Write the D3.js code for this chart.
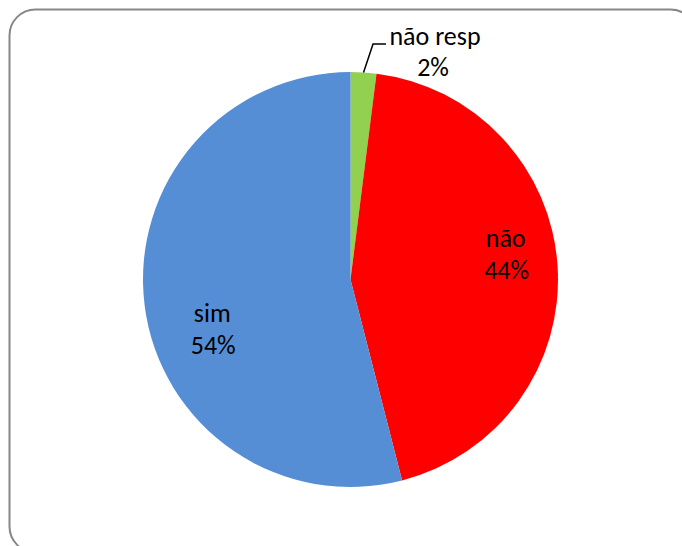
<!DOCTYPE html>
<html>
<head>
<meta charset="utf-8">
<script src="https://cdn.jsdelivr.net/npm/d3@7"></script>
<style>
  html, body { margin: 0; padding: 0; background: #fff; }
  svg { display: block; }
  text { font-family: Carlito, Lato, "Open Sans", sans-serif; fill: #000; }
</style>
</head>
<body>
<svg id="chart" width="682" height="546"></svg>
<script>
// Survey answers
const categories = ["não resp", "não", "sim"];
const values = [2, 44, 54];
const colors = ["#92D050", "#FF0000", "#558ED5"];

const svg = d3.select("#chart");

// Rounded chart frame (extends past the right and bottom edges)
svg.append("rect")
  .attr("x", 9.5).attr("y", 9.5)
  .attr("width", 687).attr("height", 543)
  .attr("rx", 26).attr("ry", 26)
  .attr("fill", "#fff")
  .attr("stroke", "#878787")
  .attr("stroke-width", 2);

const cx = 350.5, cy = 279.5, R = 207.5;
const g = svg.append("g").attr("transform", `translate(${cx},${cy})`);

const pie = d3.pie().sort(null).value(d => d.value);
const data = pie(categories.map((c, i) => ({ cat: c, value: values[i], color: colors[i] })));
const arc = d3.arc().innerRadius(0).outerRadius(R);

g.selectAll("path.slice")
  .data(data)
  .join("path")
  .attr("class", "slice")
  .attr("d", arc)
  .attr("fill", d => d.data.color);

const total = d3.sum(values);
const pct = v => Math.round(v / total * 100) + "%";
const fs = 26, lh = 32;

// Inside labels: centroid on an inner ring, nudged to sit like the spreadsheet default
const labelArc = d3.arc().innerRadius(0.73 * R).outerRadius(0.73 * R);
const nudge = { "não": [4, -15], "sim": [12, 31.5] };

data.filter(d => d.data.cat !== "não resp").forEach(d => {
  const [x, y] = labelArc.centroid(d);
  const [nx, ny] = nudge[d.data.cat];
  const t = g.append("text")
    .attr("text-anchor", "middle")
    .attr("font-size", fs);
  t.append("tspan").attr("x", x + nx).attr("y", y + ny - lh / 2 + 8).text(d.data.cat);
  t.append("tspan").attr("x", x + nx + 1).attr("y", y + ny + lh / 2 + 8).text(pct(d.data.value));
});

// Outside label with leader line for the small slice
const small = data.find(d => d.data.cat === "não resp");
const mid = (small.startAngle + small.endAngle) / 2;
const p0 = [Math.sin(mid) * R, -Math.cos(mid) * R];
const p1 = [p0[0] + 9.5, -R - 28];
const p2 = [p1[0] + 13, p1[1]];
g.append("polyline")
  .attr("points", [p0, p1, p2].map(p => p.join(",")).join(" "))
  .attr("fill", "none")
  .attr("stroke", "#000")
  .attr("stroke-width", 1.5);

const ox = p2[0] + 49;
const ot = g.append("text").attr("text-anchor", "middle").attr("font-size", fs);
ot.append("tspan").attr("x", ox).attr("y", p1[1] + 1).text(small.data.cat);
ot.append("tspan").attr("x", ox - 2).attr("y", p1[1] + 1 + 31).text(pct(small.data.value));
</script>
</body>
</html>
